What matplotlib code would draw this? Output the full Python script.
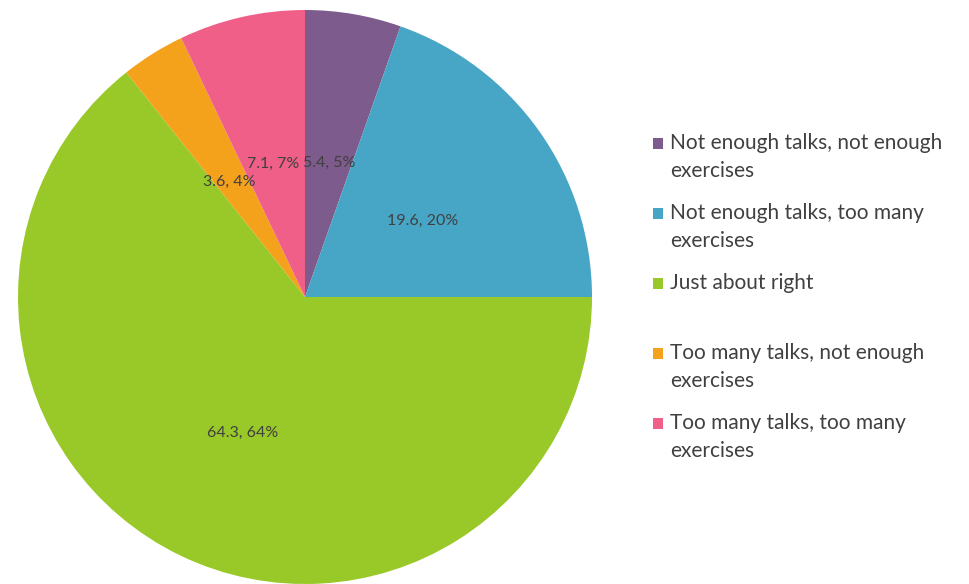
import matplotlib
matplotlib.use("Agg")
import matplotlib.pyplot as plt
from matplotlib.patches import Rectangle

labels = [
    "Not enough talks, not enough\nexercises",
    "Not enough talks, too many\nexercises",
    "Just about right",
    "Too many talks, not enough\nexercises",
    "Too many talks, too many\nexercises",
]
values = [5.4, 19.6, 64.3, 3.6, 7.1]
percents = ["5%", "20%", "64%", "4%", "7%"]
colors = ["#7d5b8c", "#47a5c5", "#99c928", "#f4a11b", "#ef5f88"]

plt.rcParams["font.family"] = ["Lato", "DejaVu Sans"]
text_color = "#404040"

fig = plt.figure(figsize=(9.7, 5.84), dpi=100)
W, H = 970, 584
cx, cy, r = 305, 297, 287
ax = fig.add_axes([(cx - r) / W, (H - cy - r) / H, 2 * r / W, 2 * r / H])

wedges, texts = ax.pie(
    values,
    colors=colors,
    startangle=90,
    counterclock=False,
    labels=[f"{v:g}, {p}" for v, p in zip(values, percents)],
    labeldistance=0.5,
    wedgeprops={"linewidth": 0},
    textprops={"fontsize": 11.5, "color": text_color},
)
for t in texts:
    t.set_horizontalalignment("center")
    t.set_verticalalignment("top")
ax.set_xlim(-1, 1)
ax.set_ylim(-1, 1)
ax.set_aspect("equal")
ax.axis("off")

# legend drawn in pixel coordinates
lax = fig.add_axes([0, 0, 1, 1])
lax.set_xlim(0, W)
lax.set_ylim(H, 0)
lax.axis("off")
slot_tops = [135, 205, 275, 345, 415]
for top, lab, col in zip(slot_tops, labels, colors):
    lax.add_patch(Rectangle((653, top + 3), 10, 11, facecolor=col, edgecolor="none"))
    lax.text(670, top - 2, lab, fontsize=15, color=text_color, va="top", ha="left",
             linespacing=1.5)

fig.savefig("out.png", dpi=100)
